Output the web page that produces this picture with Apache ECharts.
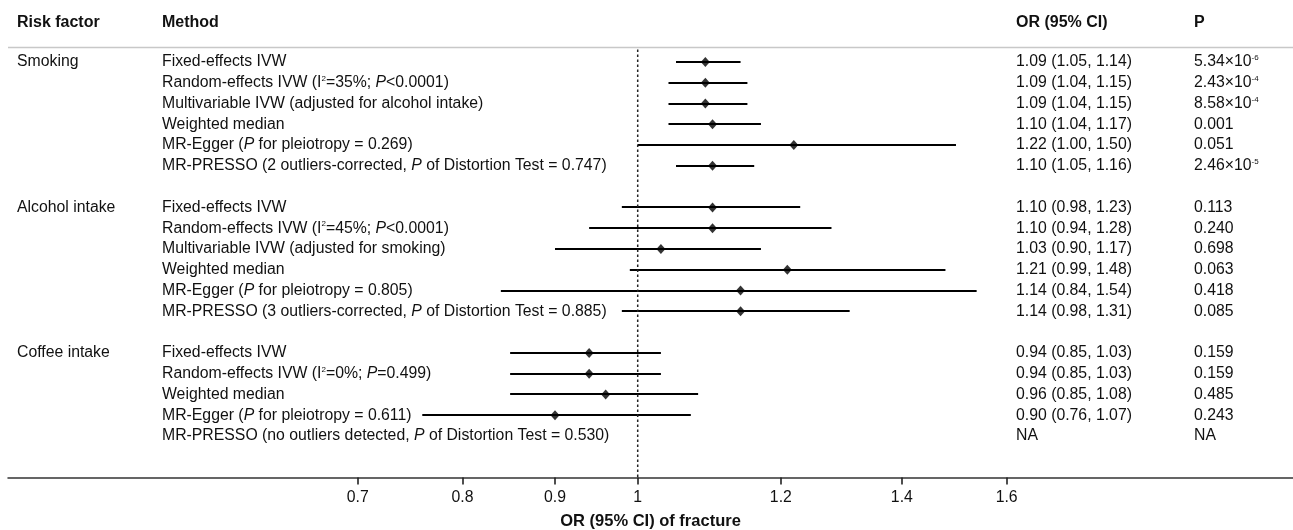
<!DOCTYPE html>
<html>
<head>
<meta charset="utf-8">
<title>OR of fracture - forest plot</title>
<script src="https://cdn.jsdelivr.net/npm/echarts@6/dist/echarts.min.js"></script>
<style>
  html, body { margin: 0; padding: 0; background: #fff; }
  #chart { width: 1293px; height: 530px; }
</style>
</head>
<body>
<div id="chart"></div>
<script>
  var riskFactors = ["Smoking", "Alcohol intake", "Coffee intake"];
  var groupOf = [0, 0, 0, 0, 0, 0, 1, 1, 1, 1, 1, 1, 2, 2, 2, 2, 2];
  var methods = [
    "Fixed-effects IVW",
    "Random-effects IVW (I{s|2}=35%; {i|P}<0.0001)",
    "Multivariable IVW (adjusted for alcohol intake)",
    "Weighted median",
    "MR-Egger ({i|P} for pleiotropy = 0.269)",
    "MR-PRESSO (2 outliers-corrected, {i|P} of Distortion Test = 0.747)",
    "Fixed-effects IVW",
    "Random-effects IVW (I{s|2}=45%; {i|P}<0.0001)",
    "Multivariable IVW (adjusted for smoking)",
    "Weighted median",
    "MR-Egger ({i|P} for pleiotropy = 0.805)",
    "MR-PRESSO (3 outliers-corrected, {i|P} of Distortion Test = 0.885)",
    "Fixed-effects IVW",
    "Random-effects IVW (I{s|2}=0%; {i|P}=0.499)",
    "Weighted median",
    "MR-Egger ({i|P} for pleiotropy = 0.611)",
    "MR-PRESSO (no outliers detected, {i|P} of Distortion Test = 0.530)"
  ];
  var orEst = [1.09, 1.09, 1.09, 1.10, 1.22, 1.10, 1.10, 1.10, 1.03, 1.21, 1.14, 1.14, 0.94, 0.94, 0.96, 0.90, null];
  var ciLow = [1.05, 1.04, 1.04, 1.04, 1.00, 1.05, 0.98, 0.94, 0.90, 0.99, 0.84, 0.98, 0.85, 0.85, 0.85, 0.76, null];
  var ciHigh = [1.14, 1.15, 1.15, 1.17, 1.50, 1.16, 1.23, 1.28, 1.17, 1.48, 1.54, 1.31, 1.03, 1.03, 1.08, 1.07, null];
  var pValues = [
    "5.34×10{s|-6}", "2.43×10{s|-4}", "8.58×10{s|-4}", "0.001", "0.051", "2.46×10{s|-5}",
    "0.113", "0.240", "0.698", "0.063", "0.418", "0.085",
    "0.159", "0.159", "0.485", "0.243", "NA"
  ];
  var tickValues = [0.7, 0.8, 0.9, 1, 1.2, 1.4, 1.6];
  var headers = ["Risk factor", "Method", "OR (95% CI)", "P"];

  var font = "'Liberation Sans', Arial, Helvetica, sans-serif";
  var ink = "#111";
  var colX = [17, 162, 1016, 1194];
  var rich = {
    i: { fontFamily: font, fontSize: 15.8, fontStyle: "italic", fill: ink },
    s: { fontFamily: font, fontSize: 8, verticalAlign: "top", fill: ink }
  };

  // one blank row between the risk factor groups
  var rows = methods.map(function (m, i) { return i + groupOf[i]; });

  var orText = orEst.map(function (v, i) {
    if (v === null) return "NA";
    return v.toFixed(2) + " (" + ciLow[i].toFixed(2) + ", " + ciHigh[i].toFixed(2) + ")";
  });

  var pointData = [], barData = [], textData = [];
  rows.forEach(function (r, i) {
    textData.push([0, r, i]);
    if (orEst[i] !== null) {
      pointData.push([Math.log(orEst[i]), r]);
      barData.push([Math.log(ciLow[i]), Math.log(ciHigh[i]), r]);
    }
  });

  function renderBar(params, api) {
    var a = api.coord([api.value(0), api.value(2)]);
    var b = api.coord([api.value(1), api.value(2)]);
    var y = Math.round(a[1]); // keep the 2px whiskers crisp
    return {
      type: "line",
      shape: { x1: a[0], y1: y, x2: b[0], y2: y },
      style: { stroke: "#000", lineWidth: 2 }
    };
  }

  function renderText(params, api) {
    var i = api.value(2);
    var y = api.coord([0, api.value(1)])[1];
    var first = i === 0 || groupOf[i] !== groupOf[i - 1];
    var cells = [first ? riskFactors[groupOf[i]] : "", methods[i], orText[i], pValues[i]];
    return {
      type: "group",
      children: cells.map(function (t, c) {
        return {
          type: "text",
          x: colX[c],
          y: y,
          style: {
            text: t, fill: ink, fontFamily: font, fontSize: 15.8,
            align: "left", verticalAlign: "middle", rich: rich
          }
        };
      })
    };
  }

  var chart = echarts.init(document.getElementById("chart"));
  var option = {
    animation: false,
    backgroundColor: "#fff",
    grid: { left: 8, right: 0, top: 20.4, bottom: 52.4, containLabel: false, outerBoundsMode: "none" },
    xAxis: {
      type: "value",
      min: -0.8022,
      max: 0.8348,
      splitLine: { show: false },
      axisLine: { onZero: false, lineStyle: { color: "#333", width: 1.5 } },
      axisTick: {
        customValues: tickValues.map(Math.log),
        length: 7,
        lineStyle: { color: "#222", width: 1.6 }
      },
      axisLabel: {
        customValues: tickValues.map(Math.log),
        margin: 12,
        color: ink,
        fontFamily: font,
        fontSize: 15.8,
        formatter: function (v) {
          for (var k = 0; k < tickValues.length; k++) {
            if (Math.abs(Math.log(tickValues[k]) - v) < 1e-6) return String(tickValues[k]);
          }
          return "";
        }
      },
      name: "OR (95% CI) of fracture",
      nameLocation: "middle",
      nameGap: 35,
      nameTextStyle: { color: ink, fontFamily: font, fontSize: 16.5, fontWeight: "bold" }
    },
    yAxis: {
      type: "value",
      inverse: true,
      min: -2,
      max: 20,
      show: false
    },
    graphic: [
      {
        type: "line",
        shape: { x1: 8, y1: 47.5, x2: 1293, y2: 47.5 },
        style: { stroke: "#c8c8c8", lineWidth: 1.5 }
      }
    ].concat(headers.map(function (h, c) {
      return {
        type: "text",
        x: colX[c],
        y: 22.5,
        style: {
          text: h, fill: ink, fontFamily: font, fontSize: 16, fontWeight: "bold",
          align: "left", verticalAlign: "middle"
        }
      };
    })),
    series: [
      {
        type: "line",
        data: [[0, -0.6], [0, 20]],
        symbol: "none",
        silent: true,
        lineStyle: { color: "#222", width: 1.5, type: [2.5, 2.5] }
      },
      {
        type: "custom",
        renderItem: renderBar,
        encode: { x: [0, 1], y: 2 },
        data: barData
      },
      {
        type: "scatter",
        symbol: "diamond",
        symbolSize: [9, 10],
        itemStyle: { color: "#000" },
        data: pointData
      },
      {
        type: "custom",
        renderItem: renderText,
        encode: { x: 0, y: 1 },
        data: textData
      }
    ]
  };
  chart.setOption(option);
</script>
</body>
</html>
